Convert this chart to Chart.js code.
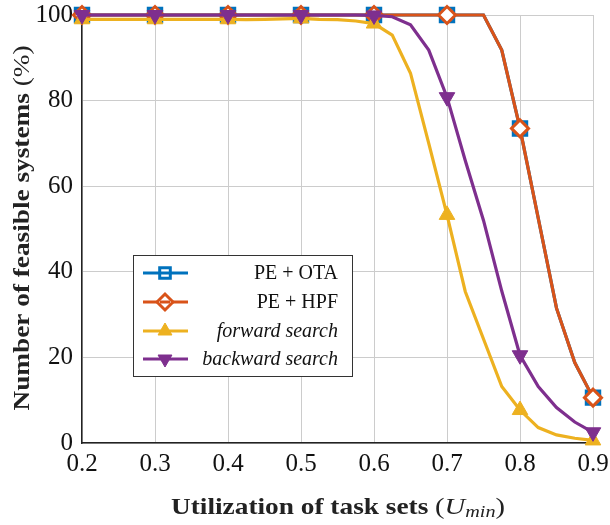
<!DOCTYPE html>
<html>
<head>
<meta charset="utf-8">
<script src="https://cdn.jsdelivr.net/npm/chart.js@4"></script>
<style>
  html, body { margin: 0; padding: 0; background: #fff; }
  #wrap { width: 610px; height: 525px; position: relative; }
</style>
</head>
<body>
<div id="wrap"><canvas id="feasible-chart" width="610" height="525"></canvas></div>
<script>
// utilization steps (0.2 .. 0.9, step 0.025)
const utilization = [0.2, 0.225, 0.25, 0.275, 0.3, 0.325, 0.35, 0.375, 0.4, 0.425, 0.45, 0.475, 0.5, 0.525,
    0.55, 0.575, 0.6, 0.625, 0.65, 0.675, 0.7, 0.725, 0.75, 0.775, 0.8, 0.825, 0.85, 0.875, 0.9];

const peOta = [100, 100, 100, 100, 100, 100, 100, 100, 100, 100, 100, 100, 100, 100,
    100, 100, 100, 100, 100, 100, 100, 100, 100, 91.8, 73.5, 52.5, 31.5, 18.8, 10.6];
const peHpf = [100, 100, 100, 100, 100, 100, 100, 100, 100, 100, 100, 100, 100, 100,
    100, 100, 100, 100, 100, 100, 100, 100, 100, 91.8, 73.5, 52.5, 31.5, 18.8, 10.6];
const forwardSearch = [99, 99, 99, 99, 99, 99, 99, 99, 99, 98.9, 99, 99.1, 99.2, 99,
    98.9, 98.6, 98, 95.3, 86.4, 70, 53.3, 35.4, 24.3, 13.2, 7.7, 3.6, 1.9, 1.1, 0.6];
const backwardSearch = [100, 100, 100, 100, 100, 100, 100, 100, 100, 100, 100, 100, 100, 100,
    100, 100, 99.9, 99.6, 97.7, 91.8, 80.8, 66, 52, 35.5, 20.5, 13.2, 8.3, 4.9, 2.5];

const xTicks = [0.2, 0.3, 0.4, 0.5, 0.6, 0.7, 0.8, 0.9];
const yTicks = [0, 20, 40, 60, 80, 100];

const SERIF = '"Liberation Serif", "DejaVu Serif", serif';

function toPoints(values) {
    return utilization.map((u, i) => ({ x: u, y: values[i] }));
}

// marker only every 0.1
const markerRadius = r => ctx => (ctx.dataIndex % 4 === 0 ? r : 0);

const series = [
    { label: 'PE + OTA', data: peOta, color: '#0072BD', style: 'rect', fill: '#ffffff', r: 9.5, bw: 3, italic: false, order: 4 },
    { label: 'PE + HPF', data: peHpf, color: '#D95319', style: 'rectRot', fill: '#ffffff', r: 8.5, bw: 3, italic: false, order: 3 },
    { label: 'forward search', data: forwardSearch, color: '#EDB120', style: 'triangle', fill: '#EDB120', r: 9, bw: 1, italic: true, order: 2 },
    { label: 'backward search', data: backwardSearch, color: '#7E2F8E', style: 'triangle', fill: '#7E2F8E', r: 9, bw: 1, italic: true, order: 1, rot: 180 }
];

// legend box inside the plot area
const insideLegend = {
    id: 'insideLegend',
    afterDatasetsDraw(chart) {
        const ctx = chart.ctx;
        const x0 = 133, y0 = 255, w = 219, h = 121;
        ctx.save();
        ctx.fillStyle = '#fff';
        ctx.fillRect(x0, y0, w, h);
        ctx.strokeStyle = '#333';
        ctx.lineWidth = 1;
        ctx.strokeRect(x0 + 0.5, y0 + 0.5, w, h);
        const rows = [273, 302, 331, 359];
        series.forEach((s, i) => {
            const y = rows[i];
            ctx.strokeStyle = s.color;
            ctx.lineWidth = 3;
            ctx.beginPath();
            ctx.moveTo(143, y);
            ctx.lineTo(188, y);
            ctx.stroke();
            ctx.fillStyle = s.fill;
            ctx.lineWidth = s.bw;
            const r = s.style === 'rect' ? 7.5 : 8;
            Chart.helpers.drawPoint(ctx, {
                pointStyle: s.style, radius: r, rotation: s.rot || 0, borderWidth: s.bw
            }, 165, y);
            if (s.style !== 'triangle') {
                ctx.lineWidth = 3;
                ctx.beginPath();
                ctx.moveTo(160, y);
                ctx.lineTo(170, y);
                ctx.stroke();
            }
            ctx.fillStyle = '#111';
            ctx.font = (s.italic ? 'italic ' : '') + '20px ' + SERIF;
            ctx.textAlign = 'right';
            ctx.textBaseline = 'middle';
            ctx.fillText(s.label, 338, y + 1);
        });
        ctx.restore();
    }
};

// draws a run of text pieces stretched to a given width, centred on (0, 0)
function drawStretched(ctx, parts, width) {
    let total = 0;
    parts.forEach(p => { ctx.font = p.f; total += ctx.measureText(p.t).width; });
    const k = width / total;
    ctx.scale(k, 1);
    let x = -total / 2;
    ctx.textAlign = 'left';
    parts.forEach(p => {
        ctx.font = p.f;
        ctx.fillText(p.t, x, p.dy || 0);
        x += ctx.measureText(p.t).width;
    });
}

// axis titles with mixed bold / math parts
const axisTitles = {
    id: 'axisTitles',
    afterDraw(chart) {
        const ctx = chart.ctx;
        ctx.save();
        ctx.fillStyle = '#222';
        ctx.textBaseline = 'middle';
        ctx.translate(338, 508);
        drawStretched(ctx, [
            { t: 'Utilization of task sets ', f: 'bold 23px ' + SERIF },
            { t: '(', f: '24px ' + SERIF },
            { t: 'U', f: 'italic 24px ' + SERIF },
            { t: 'min', f: 'italic 17px ' + SERIF, dy: 5 },
            { t: ')', f: '24px ' + SERIF }
        ], 334);
        ctx.restore();

        ctx.save();
        ctx.fillStyle = '#222';
        ctx.textBaseline = 'middle';
        ctx.translate(23, 228);
        ctx.rotate(-Math.PI / 2);
        drawStretched(ctx, [
            { t: 'Number of feasible systems ', f: 'bold 23px ' + SERIF },
            { t: '(%)', f: '23px ' + SERIF }
        ], 365);
        ctx.restore();
    }
};

new Chart(document.getElementById('feasible-chart').getContext('2d'), {
    type: 'line',
    data: {
        datasets: series.map(s => ({
            label: s.label,
            data: toPoints(s.data),
            borderColor: s.color,
            backgroundColor: s.fill,
            borderWidth: 3.2,
            pointStyle: s.style,
            pointRotation: s.rot || 0,
            pointRadius: markerRadius(s.r),
            pointBorderWidth: s.bw,
            pointBorderColor: s.color,
            pointBackgroundColor: s.fill,
            tension: 0,
            clip: false,
            order: s.order
        }))
    },
    options: {
        responsive: false,
        animation: false,
        devicePixelRatio: 1,
        layout: { padding: { top: 15, right: 17, left: 0, bottom: 0 } },
        plugins: { legend: { display: false }, tooltip: { enabled: false } },
        scales: {
            x: {
                type: 'linear',
                min: 0.2,
                max: 0.9,
                afterBuildTicks: axis => { axis.ticks = xTicks.map(v => ({ value: v })); },
                afterFit: axis => {
                    axis.height = 82;
                    axis.paddingLeft = 0;
                    axis.paddingRight = 0;
                },
                ticks: {
                    callback: v => v.toFixed(1),
                    color: '#111',
                    padding: 6,
                    maxRotation: 0,
                    font: { family: SERIF, size: 25 }
                },
                grid: { color: '#cccccc', lineWidth: 1, tickLength: 0 },
                border: { color: '#222', width: 1.5 }
            },
            y: {
                min: 0,
                max: 100,
                afterBuildTicks: axis => { axis.ticks = yTicks.map(v => ({ value: v })); },
                afterFit: axis => {
                    axis.width = 82;
                    axis.paddingTop = 0;
                    axis.paddingBottom = 0;
                },
                ticks: {
                    color: '#111',
                    padding: 9,
                    font: { family: SERIF, size: 25 }
                },
                grid: { color: '#cccccc', lineWidth: 1, tickLength: 0 },
                border: { color: '#222', width: 1.5 }
            }
        }
    },
    plugins: [insideLegend, axisTitles]
});
</script>
</body>
</html>
